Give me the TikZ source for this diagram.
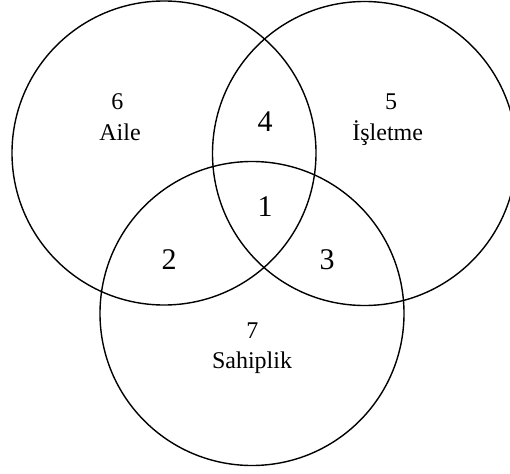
\documentclass[tikz,border=0pt]{standalone}
\usepackage{fontspec}
\setmainfont{Liberation Serif}
\usepackage{tikz}

\tikzset{
	set/.style={draw=black, line width=1.4pt},
	small/.style={anchor=base, inner sep=0pt, font=\fontsize{24}{27}\selectfont},
	big/.style={anchor=base, inner sep=0pt, font=\fontsize{30}{34}\selectfont}
}

\begin{document}
\begin{tikzpicture}[x=1pt, y=-1pt]
	\useasboundingbox (0,0) rectangle (510,473);
	\begin{scope}
		\clip (0,0) rectangle (510,473);
		% The three sets
		\draw[set] (164,153) circle (152);
		\draw[set] (364.5,153.5) circle (152);
		\draw[set] (252,313.5) circle (152);
	\end{scope}
	
	% Labels of the regions
	\node[small] (n6) at (117.3,109.3) {6};
	\node[small] (aile) at (120,140) {Aile};
	\node[small] (n5) at (391,109.3) {5};
	\node[small] (isletme) at (387.7,140) {İşletme};
	\node[small] (n7) at (252.3,338) {7};
	\node[small] (sahiplik) at (252,368.3) {Sahiplik};
	
	\node[big] (n4) at (265,131.7) {4};
	\node[big] (n1) at (265,216.7) {1};
	\node[big] (n2) at (169,269.3) {2};
	\node[big] (n3) at (327,269.3) {3};
\end{tikzpicture}
\end{document}
